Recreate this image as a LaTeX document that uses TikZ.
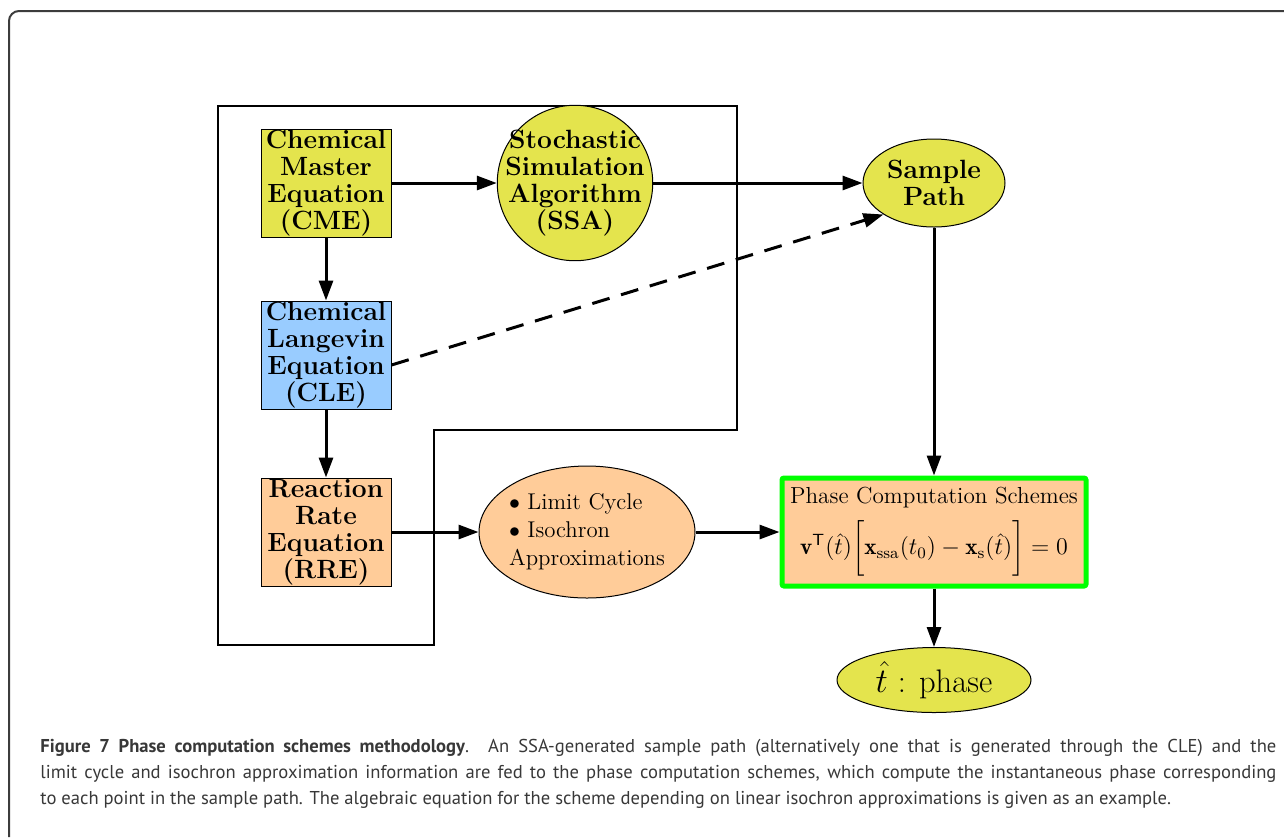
\documentclass[tikz,border=0pt]{standalone}
\usepackage{amsmath, amssymb}
\usepackage{fontspec}
\newfontfamily\capfont{PT Sans}
\usetikzlibrary{arrows.meta, shapes.geometric}
\definecolor{cmeyellow}{RGB}{228,228,77}
\definecolor{cleblue}{RGB}{153,204,255}
\definecolor{rreorange}{RGB}{255,204,153}
\definecolor{pcsgreen}{RGB}{0,255,0}
\definecolor{framegray}{RGB}{60,60,60}

\begin{document}
\begin{tikzpicture}[x=0.5pt, y=-0.5pt, >={Triangle[length=10pt,width=7pt]},
    eqbox/.style={draw, line width=0.5pt, minimum width=65pt, minimum height=54pt, inner sep=0pt, align=center, font=\fontsize{13.2}{13.5}\selectfont\bfseries},
    blob/.style={draw, line width=0.5pt, ellipse, inner sep=0pt, align=center},
    flow/.style={->, line width=1.5pt}]
    \useasboundingbox (0,0) rectangle (1284,837);
    \draw[framegray, line width=1pt, rounded corners=5pt] (9,837) -- (9,11) -- (1284,11);
    \draw[line width=0.75pt] (218,106) -- (737,106) -- (737,430) -- (434,430) -- (434,645) -- (218,645) -- cycle;
    \node[eqbox, fill=cmeyellow] (cme) at (326,183) {Chemical\\Master\\Equation\\(CME)};
    \node[eqbox, fill=cleblue] (cle) at (326,355) {Chemical\\Langevin\\Equation\\(CLE)};
    \node[eqbox, fill=rreorange] (rre) at (326,532) {Reaction\\Rate\\Equation\\(RRE)};
    \node[draw, line width=0.5pt, circle, minimum size=76pt, inner sep=-3.5pt, align=center, fill=cmeyellow, font=\fontsize{13.2}{13.5}\selectfont\bfseries] (ssa) at (575,183) {Stochastic\\Simulation\\Algorithm\\(SSA)};
    \node[blob, fill=cmeyellow, minimum width=71pt, minimum height=44pt, font=\fontsize{13.2}{13.5}\selectfont\bfseries] (samp) at (934,183) {Sample\\Path};
    \node[blob, fill=rreorange, minimum width=108pt, minimum height=66pt, inner sep=-2pt, align=left, font=\fontsize{11.4}{14}\selectfont] (lc) at (587,532) {$\bullet$ Limit Cycle\\$\bullet$ Isochron\\Approximations};
    \node[draw=pcsgreen, line width=2.5pt, rounded corners=1pt, fill=rreorange, minimum width=152pt, minimum height=54pt, inner sep=0pt, align=center, font=\fontsize{11.6}{14}\selectfont] (pcs) at (934,532) {Phase Computation Schemes\\[5pt]$\mathbf{v}^{\mathsf{T}}(\hat{t})\biggl[\mathbf{x}_{\mathrm{ssa}}(t_0)-\mathbf{x}_{\mathrm{s}}(\hat{t})\biggr]=0$};
    \node[blob, fill=cmeyellow, minimum width=97pt, minimum height=32.5pt, font=\fontsize{16.3}{18}\selectfont] (phase) at (934,680) {$\hat{t}$ : phase};
    \draw[flow] (cme) -- (ssa);
    \draw[flow] (ssa) -- (samp);
    \draw[flow] (cme) -- (cle);
    \draw[flow] (cle) -- (rre);
    \draw[flow, dash pattern=on 9pt off 6pt] ([yshift=-5pt]cle.east) -- (samp.south west);
    \draw[flow] (rre) -- (lc);
    \draw[flow] (lc) -- (pcs);
    \draw[flow] (samp) -- (pcs);
    \draw[flow] (pcs) -- (phase);
    \node[anchor=base west, inner sep=0pt, text width=618pt, align=justify, font=\capfont\fontsize{9.3}{13}\selectfont, text=black!78] (cap) at (40,752) {\hyphenpenalty=10000 \textbf{Figure 7 Phase computation schemes methodology}. An SSA-generated sample path (alternatively one that is generated through the CLE) and the\linebreak limit cycle and isochron approximation information are fed to the phase computation schemes, which compute the instantaneous phase corresponding\linebreak to each point in the sample path. The algebraic equation for the scheme depending on linear isochron approximations is given as an example.};
\end{tikzpicture}
\end{document}
